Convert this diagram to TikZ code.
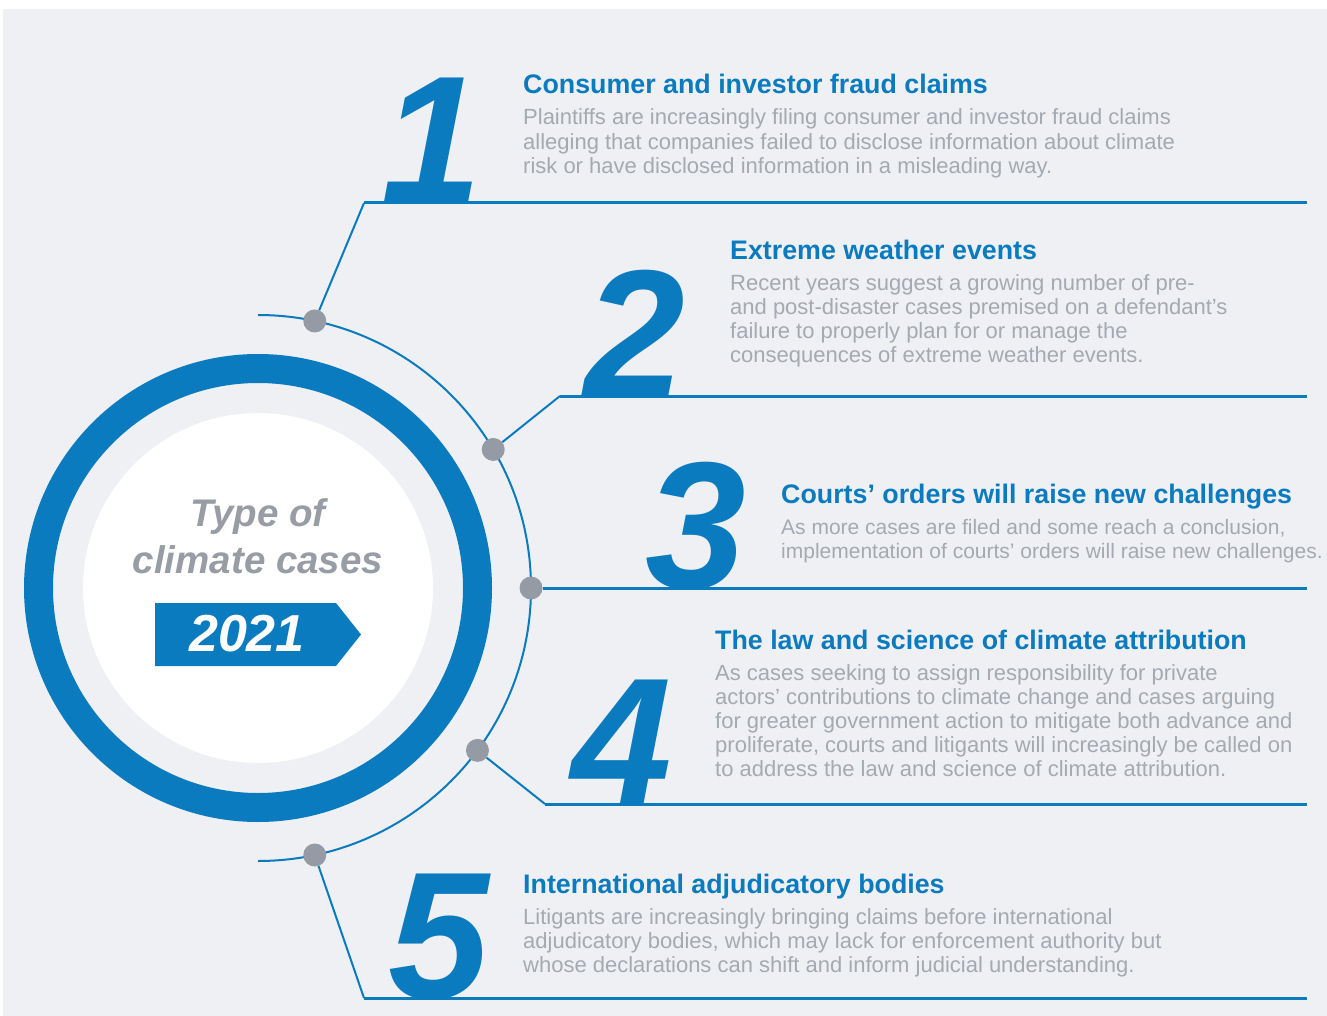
\documentclass[tikz,border=0pt]{standalone}
\usepackage{fontspec}
\setmainfont{Liberation Sans}
\usetikzlibrary{calc}
\definecolor{caseblue}{HTML}{0A7BBF}
\definecolor{casegray}{HTML}{A5A9B0}
\definecolor{titlegray}{HTML}{989DA5}
\definecolor{dotgray}{HTML}{959BA4}
\definecolor{paper}{HTML}{EFF0F3}

\begin{document}
\begin{tikzpicture}[x=1pt,y=-1pt,
    head/.style={anchor=base west,inner sep=0pt,text=caseblue,font=\fontsize{26.8}{30}\selectfont\bfseries},
    body/.style={anchor=base west,inner sep=0pt,align=left,text=casegray,font=\fontsize{22}{24.2}\selectfont},
    num/.style={anchor=base,inner sep=0pt,text=caseblue,font=\fontsize{181}{181}\selectfont\bfseries\itshape},
    dot/.style={circle,fill=dotgray,inner sep=0pt,minimum size=23pt},
    rule/.style={caseblue,line width=3pt},
    link/.style={caseblue,line width=2pt}]
  \useasboundingbox (0,0) rectangle (1327,1016);
  \fill[white] (0,0) rectangle (1327,1016);
  \fill[paper] (3,9) rectangle (1327,1016);
  % centre badge
  \coordinate (c) at (258,588);
  \draw[caseblue,line width=29pt] (c) circle[radius=219.5];
  \fill[white] (c) circle[radius=175];
  % base of a multi-line node is its last line
  \node[anchor=base,inner sep=0pt,align=center,text=titlegray,
        font=\fontsize{38.5}{47}\selectfont\bfseries\itshape] (title) at (258,573) {Type of\\climate cases};
  \fill[caseblue] (155,603) -- (336,603) -- (361,634.5) -- (336,666) -- (155,666) -- cycle;
  \node[anchor=base,inner sep=0pt,text=white,
        font=\fontsize{52}{52}\selectfont\bfseries\itshape] (year) at (247,651) {2021};
  % arc and dots
  \draw[link] ($(c)+(0,-273)$) arc[start angle=-90,end angle=90,radius=273];
  \foreach \a/\n in {-78/1,-30.5/2,0/3,36.5/4,78/5}
    \node[dot] (d\n) at ($(c)+(\a:273)$) {};
  \coordinate (k1) at (364,203);
  \coordinate (k2) at (560,396);
  \coordinate (k4) at (545,804);
  \coordinate (k5) at (364,998);
  \coordinate (e1) at (1307,203);
  \coordinate (e2) at (1307,396);
  \coordinate (e3) at (1307,588);
  \coordinate (e4) at (1307,804);
  \coordinate (e5) at (1307,998);
  \draw[link] (d1) -- (k1);
  \draw[link] (d2) -- (k2);
  \draw[link] (d4) -- (k4);
  \draw[link] (d5) -- (k5);
  \draw[rule] (k1) -- (e1);
  \draw[rule] (k2) -- (e2);
  \draw[rule] (d3) -- (e3);
  \draw[rule] (k4) -- (e4);
  \draw[rule] (k5) -- (e5);
  % big numbers
  \node[num] (n1) at (432,203) {1};
  \node[num] (n2) at (635,396) {2};
  \node[num] (n3) at (696,588) {3};
  \node[num] (n4) at (622,804) {4};
  \node[num] (n5) at (439,998) {5};
  % items
  \node[head] (h1) at (523,94) {Consumer and investor fraud claims};
  \node[body] (b1) at (523,173.4) {Plaintiffs are increasingly filing consumer and investor fraud claims\\
    alleging that companies failed to disclose information about climate\\
    risk or have disclosed information in a misleading way.};
  \node[head] (h2) at (730,259) {Extreme weather events};
  \node[body] (b2) at (730,362.6) {Recent years suggest a growing number of pre-\\
    and post-disaster cases premised on a defendant’s\\
    failure to properly plan for or manage the\\
    consequences of extreme weather events.};
  \node[head] (h3) at (781,503) {Courts’ orders will raise new challenges};
  \node[body,font=\fontsize{21}{24.2}\selectfont] (b3) at (781,558.2) {As more cases are filed and some reach a conclusion,\\
    implementation of courts’ orders will raise new challenges.};
  \node[head] (h4) at (715,649) {The law and science of climate attribution};
  \node[body] (b4) at (715,776.8) {As cases seeking to assign responsibility for private\\
    actors’ contributions to climate change and cases arguing\\
    for greater government action to mitigate both advance and\\
    proliferate, courts and litigants will increasingly be called on\\
    to address the law and science of climate attribution.};
  \node[head] (h5) at (523,893) {International adjudicatory bodies};
  \node[body] (b5) at (523,972.4) {Litigants are increasingly bringing claims before international\\
    adjudicatory bodies, which may lack for enforcement authority but\\
    whose declarations can shift and inform judicial understanding.};
\end{tikzpicture}
\end{document}
